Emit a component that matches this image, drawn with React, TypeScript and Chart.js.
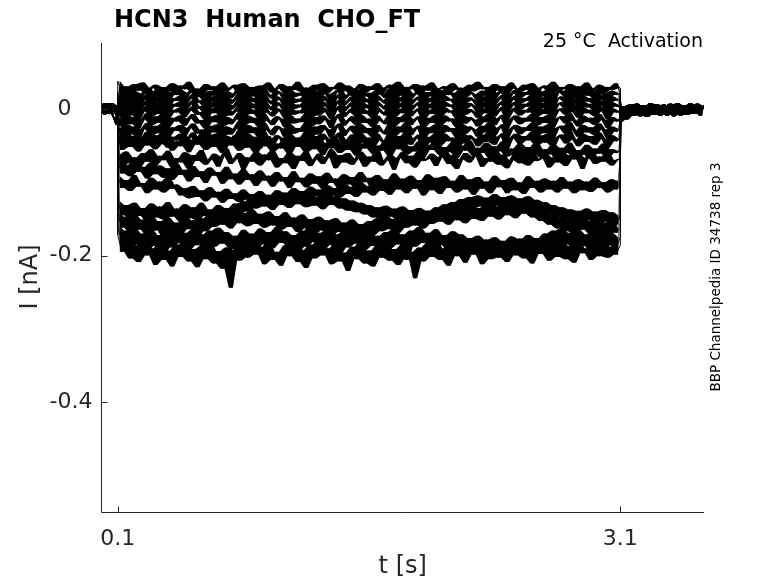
import React, { useEffect, useRef } from 'react';
import { Chart, registerables } from 'chart.js';
import type { Plugin, ChartDataset } from 'chart.js';

Chart.register(...registerables);

const title = 'HCN3  Human  CHO_FT';
const subtitle = '25 °C  Activation';
const sideNote = 'BBP Channelpedia ID 34738 rep 3';
const xLabel = 't [s]';
const yLabel = 'I [nA]';

const xTicks = [0.1, 3.1];
const xTickLabels = ['0.1', '3.1'];
const yTicks = [0, -0.2, -0.4];
const yTickLabels = ['0   ', '-0.2', '-0.4'];

// protocol timing in s: holding, 3 s step, holding again
const HOLD_START = 0;
const STEP_START = 0.1;
const STEP_END = 3.1;
const TAIL_END = 3.6;

// holding current before the step, pA (0 to 0.1 s)
const holdA = [3, -6, 7, -4, 8, -7, 5, -3, 6, -8, 2];
const holdB = [-5, 6, -8, 4, -3, 7, -6, 8, -4, 5, -1];
const holdC = [6, -3, 8, -7, 4, -5, 7, -9, -14, -21, 3];

// current after the step, pA (3.1 to 3.6 s)
const tailA = [-6, 4, -8, 6, -5, 7, -9, 3, -4, 8, -7, 5, -6, 2, -8, 6, -3, 7, -9, 4, -5, 8, -6, 3, -7, 5];
const tailB = [-12, -4, -9, 2, -7, 5, -10, 4, -6, 7, -8, 3, -5, 6, -9, 2, -4, 8, -7, 5, -8, 3, -6, 7, -3, 4];
const tailC = [-18, -10, -14, -3, -9, 2, -8, 5, -11, 3, -7, 6, -9, 4, -5, 7, -10, 2, -6, 5, -8, 6, -4, 3, -9, 5];

// current during the step, pA (0.1 to 3.1 s)
const sweep01 = [38, 22, 31, 19, 34, 25, 36, 21, 29, 33, 18, 30, 24, 35, 20, 32, 27, 37, 23, 28, 19, 34, 26, 31, 22, 36, 24, 29, 33, 20, 35, 25, 30, 18, 32, 27, 36, 22, 28, 34, 21, 31, 26, 37, 23, 29, 19, 33, 25, 35, 21, 30, 27, 36, 24, 32, 18, 28, 34, 22, 31, 26, 35, 20, 29, 33, 24, 37, 21, 30, 27, 34, 19, 32, 25, 36, 23, 28, 31, 20, 35, 26, 29, 22, 33, 24, 37, 27, 30, 19, 34, 25, 31, 21, 36, 28, 23, 33, 26, 35, 20, 29, 32, 24, 37, 22, 30, 27, 34, 18, 31, 25, 36, 23, 28, 33, 21, 30, 26, 35, 28];
const sweep02 = [22, 12, 27, 15, 24, 10, 21, 28, 14, 25, 17, 29, 11, 23, 19, 26, 13, 22, 28, 16, 20, 9, 25, 18, 27, 12, 24, 15, 21, 29, 13, 26, 17, 23, 10, 28, 19, 14, 25, 21, 11, 27, 16, 22, 18, 29, 12, 24, 15, 26, 20, 10, 23, 28, 13, 19, 25, 14, 27, 17, 22, 11, 26, 20, 15, 28, 12, 24, 18, 29, 14, 21, 25, 10, 23, 17, 27, 13, 26, 19, 22, 11, 28, 16, 24, 20, 12, 25, 18, 29, 14, 22, 27, 10, 21, 26, 15, 23, 19, 28, 13, 24, 17, 27, 11, 22, 25, 16, 29, 20, 12, 26, 18, 23, 14, 28, 21, 10, 25, 19, 22];
const sweep03 = [14, 4, 19, 7, 16, 2, 13, 20, 6, 17, 9, 21, 3, 15, 11, 18, 5, 14, 20, 8, 12, 1, 17, 10, 19, 4, 16, 7, 13, 21, 5, 18, 9, 15, 2, 20, 11, 6, 17, 13, 3, 19, 8, 14, 10, 21, 4, 16, 7, 18, 12, 2, 15, 20, 5, 11, 17, 6, 19, 9, 14, 3, 18, 12, 7, 20, 4, 16, 10, 21, 6, 13, 17, 2, 15, 9, 19, 5, 18, 11, 14, 3, 20, 8, 16, 12, 4, 17, 10, 21, 6, 14, 19, 2, 13, 18, 7, 15, 11, 20, 5, 16, 9, 19, 3, 14, 17, 8, 21, 12, 4, 18, 10, 15, 6, 20, 13, 2, 17, 11, 14];
const sweep04 = [6, -4, 11, -1, 8, -6, 5, 12, -2, 9, 1, 13, -5, 7, 3, 10, -3, 6, 12, 0, 4, -7, 9, 2, 11, -4, 8, -1, 5, 13, -3, 10, 1, 7, -6, 12, 3, -2, 9, 5, -5, 11, 0, 6, 2, 13, -4, 8, -1, 10, 4, -6, 7, 12, -3, 3, 9, -2, 11, 1, 6, -5, 10, 4, -1, 12, -4, 8, 2, 13, -2, 5, 9, -6, 7, 1, 11, -3, 10, 3, 6, -5, 12, 0, 8, 4, -4, 9, 2, 13, -2, 6, 11, -6, 5, 10, -1, 7, 3, 12, -3, 8, 1, 11, -5, 6, 9, 0, 13, 4, -4, 10, 2, 7, -2, 12, 5, -6, 9, 3, 6];
const sweep05 = [-2, -12, 3, -9, 0, -14, -3, 4, -10, 1, -7, 5, -13, -1, -5, 2, -11, -2, 4, -8, -4, -15, 1, -6, 3, -12, 0, -9, -3, 5, -11, 2, -7, -1, -14, 4, -5, -10, 1, -3, -13, 3, -8, -2, -6, 5, -12, 0, -9, 2, -4, -14, -1, 4, -11, -5, 1, -10, 3, -7, -2, -13, 2, -4, -9, 4, -12, 0, -6, 5, -10, -3, 1, -14, -1, -7, 3, -11, 2, -5, -2, -13, 4, -8, 0, -4, -12, 1, -6, 5, -10, -2, 3, -14, -3, 2, -9, -1, -5, 4, -11, 0, -7, 3, -13, -2, 1, -8, 5, -4, -12, 2, -6, -1, -10, 4, -3, -14, 1, -5, -2];
const sweep06 = [-13, -24, -8, -21, -11, -26, -14, -6, -22, -10, -19, -5, -25, -12, -17, -9, -23, -13, -7, -20, -15, -27, -10, -18, -8, -24, -11, -21, -14, -5, -23, -9, -19, -12, -26, -7, -16, -22, -10, -14, -25, -8, -20, -13, -18, -6, -24, -11, -21, -9, -15, -26, -12, -7, -23, -16, -10, -22, -8, -19, -13, -25, -9, -16, -21, -7, -24, -11, -18, -6, -22, -14, -10, -26, -12, -19, -8, -23, -9, -17, -13, -25, -7, -20, -11, -15, -24, -10, -18, -5, -22, -13, -8, -26, -14, -9, -21, -12, -17, -7, -23, -11, -19, -8, -25, -13, -10, -20, -6, -16, -24, -9, -18, -12, -22, -7, -15, -26, -11, -17, -14];
const sweep07 = [-26, -38, -21, -35, -24, -40, -27, -19, -36, -23, -33, -18, -39, -25, -30, -22, -37, -26, -20, -34, -28, -41, -23, -32, -21, -38, -24, -35, -27, -17, -37, -22, -33, -25, -40, -19, -29, -36, -23, -27, -39, -21, -34, -26, -31, -18, -38, -24, -35, -22, -28, -40, -25, -20, -37, -29, -23, -36, -21, -33, -26, -39, -22, -30, -35, -19, -38, -24, -32, -18, -36, -27, -23, -40, -25, -33, -21, -37, -22, -31, -26, -39, -20, -34, -24, -28, -38, -23, -32, -17, -36, -26, -21, -40, -27, -22, -35, -25, -30, -19, -37, -24, -33, -21, -39, -26, -23, -34, -18, -29, -38, -22, -32, -25, -36, -20, -28, -40, -24, -31, -27];
const sweep08 = [-38, -51, -33, -48, -37, -54, -40, -31, -49, -36, -46, -30, -53, -38, -43, -34, -50, -39, -32, -47, -41, -55, -35, -45, -33, -52, -37, -48, -40, -29, -50, -34, -46, -38, -54, -31, -42, -49, -36, -40, -53, -33, -47, -39, -44, -30, -51, -37, -48, -34, -41, -54, -38, -32, -50, -42, -35, -49, -33, -46, -39, -52, -34, -43, -48, -31, -51, -37, -45, -30, -49, -40, -35, -54, -38, -46, -33, -50, -34, -44, -39, -53, -32, -47, -36, -41, -51, -35, -45, -29, -49, -38, -33, -54, -40, -34, -48, -37, -43, -31, -50, -36, -46, -33, -52, -39, -35, -47, -30, -42, -51, -34, -45, -37, -49, -32, -41, -53, -36, -44, -40];
const sweep09 = [-40, -56, -36, -52, -43, -58, -38, -50, -33, -55, -41, -48, -35, -57, -44, -51, -37, -59, -42, -49, -34, -56, -45, -52, -38, -60, -43, -50, -36, -57, -46, -53, -39, -61, -44, -51, -37, -58, -47, -54, -40, -62, -45, -52, -38, -59, -48, -55, -41, -63, -46, -53, -39, -60, -49, -56, -42, -64, -47, -54, -40, -61, -50, -57, -43, -65, -48, -55, -41, -62, -51, -58, -44, -66, -49, -56, -42, -63, -52, -59, -45, -67, -50, -57, -43, -64, -53, -60, -46, -68, -51, -58, -44, -65, -54, -61, -47, -69, -52, -59, -45, -66, -55, -62, -48, -70, -53, -60, -46, -67, -56, -63, -49, -68, -54, -61, -47, -66, -55, -60, -57];
const sweep10 = [-62, -78, -58, -74, -66, -81, -60, -72, -55, -77, -64, -70, -57, -80, -67, -73, -59, -82, -63, -71, -56, -76, -69, -61, -79, -65, -54, -75, -68, -60, -83, -66, -72, -58, -77, -62, -70, -56, -80, -67, -74, -59, -82, -64, -71, -57, -78, -69, -61, -75, -66, -55, -81, -63, -73, -60, -76, -68, -58, -79, -65, -72, -54, -77, -70, -62, -83, -67, -59, -74, -64, -80, -57, -71, -68, -61, -78, -66, -56, -75, -63, -82, -69, -60, -73, -65, -58, -79, -67, -72, -55, -76, -62, -81, -70, -59, -74, -64, -77, -57, -71, -68, -60, -80, -66, -73, -56, -78, -63, -69, -61, -82, -67, -58, -75, -65, -72, -59, -77, -70, -68];
const sweep11 = [-72, -88, -76, -92, -70, -86, -79, -95, -73, -89, -77, -94, -81, -97, -74, -90, -83, -99, -78, -93, -85, -101, -80, -91, -86, -102, -79, -96, -88, -103, -82, -97, -89, -105, -84, -98, -91, -106, -86, -99, -93, -108, -85, -100, -94, -107, -88, -102, -92, -109, -87, -101, -95, -110, -89, -103, -93, -108, -86, -100, -94, -111, -90, -104, -96, -109, -88, -102, -95, -112, -91, -105, -97, -110, -89, -103, -94, -113, -92, -106, -98, -111, -90, -104, -96, -114, -93, -107, -99, -112, -91, -105, -97, -115, -94, -108, -100, -113, -92, -106, -98, -112, -95, -109, -101, -114, -93, -107, -99, -111, -96, -110, -102, -113, -94, -108, -100, -112, -97, -109, -98];
const sweep12 = [-92, -108, -97, -112, -90, -106, -101, -115, -94, -110, -99, -114, -93, -109, -103, -118, -108, -122, -105, -120, -111, -126, -107, -121, -113, -128, -109, -123, -115, -127, -110, -124, -116, -129, -112, -125, -117, -130, -111, -124, -114, -128, -108, -122, -112, -126, -106, -119, -110, -123, -104, -118, -108, -121, -102, -116, -106, -120, -100, -114, -105, -118, -98, -112, -103, -117, -96, -110, -101, -115, -95, -109, -104, -118, -97, -111, -102, -116, -94, -108, -100, -114, -96, -110, -103, -117, -95, -109, -101, -115, -93, -107, -99, -113, -97, -111, -102, -116, -94, -108, -100, -114, -96, -110, -98, -112, -95, -109, -101, -115, -97, -111, -99, -113, -94, -108, -100, -114, -96, -110, -104];
const sweep13 = [-126, -145, -131, -150, -128, -146, -135, -153, -129, -148, -133, -151, -127, -147, -136, -154, -130, -149, -134, -152, -128, -146, -137, -155, -131, -148, -135, -150, -129, -144, -126, -140, -120, -136, -117, -133, -121, -138, -115, -131, -119, -135, -113, -130, -118, -134, -116, -132, -120, -137, -114, -131, -119, -136, -122, -139, -125, -141, -128, -144, -131, -148, -134, -150, -132, -147, -136, -153, -133, -149, -138, -155, -135, -151, -139, -154, -134, -150, -130, -145, -127, -142, -123, -139, -120, -135, -118, -133, -121, -137, -116, -132, -120, -136, -118, -134, -122, -139, -119, -135, -124, -141, -127, -144, -131, -148, -134, -151, -137, -155, -139, -156, -136, -152, -140, -157, -138, -154, -141, -158, -145];
const sweep14 = [-142, -162, -147, -168, -144, -165, -151, -172, -146, -166, -153, -175, -148, -169, -155, -171, -145, -164, -152, -174, -149, -167, -143, -161, -139, -158, -144, -163, -138, -156, -142, -160, -137, -157, -143, -162, -140, -159, -146, -165, -141, -161, -148, -168, -144, -163, -150, -170, -147, -166, -152, -173, -149, -168, -155, -175, -151, -170, -157, -177, -153, -172, -149, -167, -146, -164, -150, -169, -144, -162, -141, -159, -145, -163, -139, -157, -136, -154, -140, -158, -134, -152, -138, -156, -131, -150, -135, -153, -129, -147, -133, -151, -127, -145, -131, -149, -126, -143, -130, -148, -135, -153, -140, -158, -144, -163, -148, -167, -151, -170, -146, -165, -153, -172, -149, -168, -155, -174, -150, -169, -163];
const sweep15 = [-160, -182, -166, -188, -163, -185, -170, -193, -165, -187, -172, -196, -167, -189, -161, -183, -169, -192, -164, -186, -171, -195, -166, -188, -162, -184, -168, -191, -173, -197, -165, -187, -170, -194, -163, -185, -168, -190, -161, -183, -167, -189, -172, -196, -166, -188, -160, -182, -169, -193, -164, -186, -171, -198, -167, -189, -162, -184, -170, -192, -165, -187, -173, -199, -168, -190, -163, -185, -171, -206, -166, -188, -161, -183, -169, -191, -164, -186, -172, -195, -167, -189, -171, -193, -176, -198, -173, -195, -178, -200, -175, -197, -180, -202, -174, -196, -177, -199, -172, -194, -176, -198, -170, -192, -166, -188, -163, -185, -169, -191, -165, -187, -171, -193, -167, -189, -164, -186, -170, -192, -175];
const sweep16 = [-172, -195, -180, -204, -186, -209, -178, -200, -190, -213, -183, -206, -193, -215, -185, -202, -179, -208, -191, -216, -187, -205, -181, -211, -194, -218, -189, -244, -192, -207, -184, -203, -178, -199, -188, -212, -182, -206, -195, -214, -186, -201, -180, -209, -192, -217, -185, -204, -179, -200, -190, -212, -184, -208, -196, -221, -188, -205, -182, -211, -193, -215, -186, -203, -179, -207, -191, -213, -185, -204, -195, -231, -189, -208, -183, -202, -178, -206, -190, -214, -184, -201, -188, -210, -181, -199, -192, -212, -186, -205, -180, -203, -189, -209, -183, -200, -177, -204, -188, -211, -182, -198, -191, -207, -185, -202, -179, -205, -187, -210, -181, -197, -190, -206, -184, -201, -178, -203, -188, -199, -186];

const sweeps = [
  sweep01, sweep02, sweep03, sweep04, sweep05, sweep06, sweep07, sweep08,
  sweep09, sweep10, sweep11, sweep12, sweep13, sweep14, sweep15, sweep16,
];
const holds = [holdA, holdB, holdC];
const tails = [tailA, tailB, tailC];

const FONT = '"DejaVu Sans", sans-serif';
const AXIS_COLOR = '#262626';

type Pt = { x: number; y: number };

// evenly sampled segment -> {x, y} in s and nA
const segment = (values: number[], t0: number, t1: number): Pt[] => {
  const dt = (t1 - t0) / (values.length - 1);
  return values.map((v, i) => ({ x: t0 + i * dt, y: v / 1000 }));
};

// min/max of each line piece: the band a dense noisy trace paints
const envelope = (pts: Pt[], pick: (a: number, b: number) => number): Pt[] => pts
  .slice(1)
  .map((p, i) => ({ x: (p.x + pts[i].x) / 2, y: pick(p.y, pts[i].y) }));

const sweepSegments = (idx: number) => [
  segment(holds[idx % holds.length], HOLD_START, STEP_START),
  segment(sweeps[idx], STEP_START, STEP_END),
  segment(tails[idx % tails.length], STEP_END, TAIL_END),
];

const buildDatasets = (): ChartDataset<'line', Pt[]>[] => sweeps.flatMap((_, idx) => {
  const segs = sweepSegments(idx);
  const base = { pointRadius: 0, tension: 0, borderColor: '#000' };
  return [
    { ...base, data: segs.flatMap((s) => envelope(s, Math.max)), borderWidth: 0, fill: false },
    {
      ...base,
      data: segs.flatMap((s) => envelope(s, Math.min)),
      borderWidth: 0,
      fill: '-1',
      backgroundColor: '#000',
    },
    { ...base, data: segs.flat(), borderWidth: 1, fill: false },
  ];
});

const matlabAxes: Plugin<'line'> = {
  id: 'matlabAxes',
  afterDraw(chart) {
    const { ctx, chartArea } = chart;
    const xs = chart.scales.x;
    const ys = chart.scales.y;
    const left = Math.round(chartArea.left) + 0.5;
    const bottom = Math.round(chartArea.bottom) + 0.5;
    ctx.save();

    // axis lines, box off
    ctx.strokeStyle = AXIS_COLOR;
    ctx.lineWidth = 1;
    ctx.beginPath();
    ctx.moveTo(left, chartArea.top);
    ctx.lineTo(left, bottom);
    ctx.lineTo(chartArea.right, bottom);
    ctx.stroke();

    // inward ticks
    ctx.beginPath();
    xTicks.forEach((t) => {
      const px = Math.round(xs.getPixelForValue(t)) + 0.5;
      ctx.moveTo(px, bottom);
      ctx.lineTo(px, bottom - 6);
    });
    yTicks.forEach((t) => {
      const py = Math.round(ys.getPixelForValue(t)) + 0.5;
      ctx.moveTo(left, py);
      ctx.lineTo(left + 6, py);
    });
    ctx.stroke();

    // tick labels
    ctx.fillStyle = AXIS_COLOR;
    ctx.font = `22px ${FONT}`;
    ctx.textAlign = 'center';
    ctx.textBaseline = 'middle';
    xTicks.forEach((t, i) => {
      ctx.fillText(xTickLabels[i], xs.getPixelForValue(t), bottom + 27);
    });
    ctx.textAlign = 'right';
    yTicks.forEach((t, i) => {
      ctx.fillText(yTickLabels[i], left - 9, ys.getPixelForValue(t));
    });

    // axis titles
    ctx.font = `24px ${FONT}`;
    ctx.textAlign = 'center';
    ctx.fillText(xLabel, (left + chartArea.right) / 2, 567);
    ctx.save();
    ctx.translate(31, 277);
    ctx.rotate(-Math.PI / 2);
    ctx.fillText(yLabel, 0, 0);
    ctx.restore();

    // titles
    ctx.fillStyle = '#000';
    ctx.font = `bold 24px ${FONT}`;
    ctx.textAlign = 'left';
    ctx.textBaseline = 'alphabetic';
    ctx.fillText(title, 114, 27);
    ctx.font = `19px ${FONT}`;
    ctx.textAlign = 'right';
    ctx.fillText(subtitle, 703, 47);

    ctx.font = `13.5px ${FONT}`;
    ctx.textAlign = 'center';
    ctx.textBaseline = 'middle';
    ctx.translate(716, 277);
    ctx.rotate(-Math.PI / 2);
    ctx.fillText(sideNote, 0, 0);
    ctx.restore();
  },
};

export default function App() {
  const canvasRef = useRef<HTMLCanvasElement>(null);

  useEffect(() => {
    if (!canvasRef.current) return () => { /* nothing */ };
    const chart = new Chart(canvasRef.current, {
      type: 'line',
      data: { datasets: buildDatasets() },
      options: {
        animation: false,
        responsive: true,
        maintainAspectRatio: false,
        events: [],
        layout: { padding: { left: 101, right: 74, top: 43, bottom: 71 } },
        plugins: { legend: { display: false }, tooltip: { enabled: false } },
        scales: {
          x: {
            type: 'linear',
            min: 0,
            max: 3.6,
            grid: { display: false, drawTicks: false },
            border: { display: false },
            ticks: { display: false },
          },
          y: {
            type: 'linear',
            min: -0.55,
            max: 0.09,
            grid: { display: false, drawTicks: false },
            border: { display: false },
            ticks: { display: false },
          },
        },
      },
      plugins: [matlabAxes],
    });
    return () => {
      chart.destroy();
    };
  }, []);

  return (
    <div style={{ position: 'absolute', left: 0, top: 0, width: 778, height: 583, background: '#fff' }}>
      <canvas ref={canvasRef} />
    </div>
  );
}
